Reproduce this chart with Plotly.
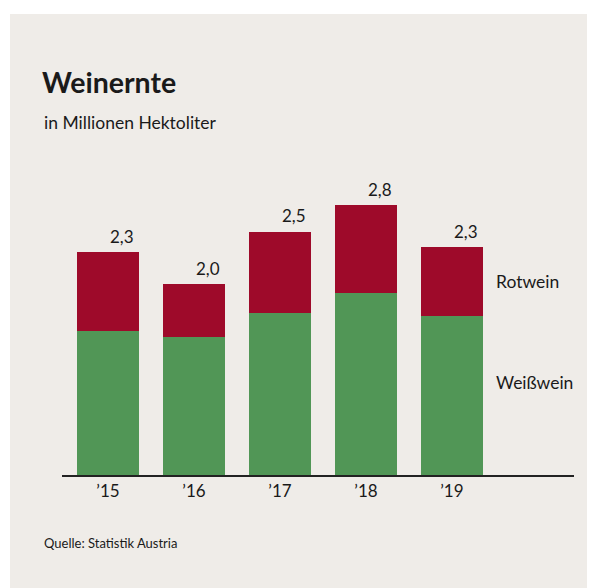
import plotly.graph_objects as go

years = ["’15", "’16", "’17", "’18", "’19"]
weisswein = [1.47, 1.41, 1.66, 1.86, 1.63]
rotwein = [0.81, 0.54, 0.83, 0.90, 0.70]
totals = [2.3, 2.0, 2.5, 2.8, 2.3]

# page body has an 8px margin, so the figure is drawn 8px in from the corner
OFF = 8
W, H = 595 - OFF, 588 - OFF
L, R, T, B = 62 - OFF, 21, 160 - OFF, 113
pw, ph = W - L - R, H - T - B

def px(x, y):
    # screen pixel position -> paper coordinates
    x, y = x - OFF, y - OFF
    return (x - L) / pw, (H - B - y) / ph

RED = "#9E0A2A"
GREEN = "#519656"
BG = "#EFECE8"
TXT = "#1a1a1a"
FONT = "Lato"

x = list(range(len(years)))
fig = go.Figure()
fig.add_trace(go.Bar(x=x, y=weisswein, name="Weißwein", marker_color=GREEN,
                     marker_line_width=0, width=0.72, hoverinfo="skip"))
fig.add_trace(go.Bar(x=x, y=rotwein, name="Rotwein", marker_color=RED,
                     marker_line_width=0, width=0.72, hoverinfo="skip"))

ann = []
for i, (w, r, t) in enumerate(zip(weisswein, rotwein, totals)):
    ann.append(dict(x=i, y=w + r, text=f"{t:.1f}".replace(".", ","), showarrow=False,
                    xshift=14, yshift=16, yanchor="middle",
                    font=dict(size=17, color=TXT, family=FONT)))

last = len(years) - 1
ann.append(dict(x=last, y=weisswein[last] + rotwein[last] / 2, text="Rotwein",
                showarrow=False, xanchor="left", xshift=42, yanchor="middle",
                font=dict(size=17.5, color=TXT, family=FONT)))
ann.append(dict(x=last, y=weisswein[last] * 0.58, text="Weißwein",
                showarrow=False, xanchor="left", xshift=42, yanchor="middle",
                font=dict(size=17.5, color=TXT, family=FONT)))

for txt, (ax, ay), size, bold in [("Weinernte", (40, 82), 28.5, True),
                                  ("in Millionen Hektoliter", (42, 122), 17.5, False),
                                  ("Quelle: Statistik Austria", (42, 543), 13, False)]:
    xx, yy = px(ax, ay)
    ann.append(dict(xref="paper", yref="paper", x=xx, y=yy, showarrow=False,
                    xanchor="left", yanchor="middle",
                    text=f"<b>{txt}</b>" if bold else txt,
                    font=dict(size=size, color=TXT, family=FONT)))

x0, y0 = px(10, 588)
x1, y1 = px(595, 14)

fig.update_layout(
    width=W, height=H,
    barmode="stack",
    showlegend=False,
    paper_bgcolor="white",
    plot_bgcolor="rgba(0,0,0,0)",
    margin=dict(l=L, r=R, t=T, b=B, pad=0),
    xaxis=dict(range=[-0.535, 5.42], tickvals=x, ticktext=years,
               showgrid=False, zeroline=False, showline=True,
               linecolor="#222", linewidth=2, ticks="",
               tickfont=dict(size=17, color=TXT, family=FONT)),
    yaxis=dict(range=[0, ph / 97.7], visible=False),
    shapes=[dict(type="rect", xref="paper", yref="paper", x0=x0, x1=x1, y0=y0, y1=y1,
                 fillcolor=BG, line_width=0, layer="below")],
    annotations=ann,
)

fig.write_html("out.html", default_width=f"{W}px", default_height=f"{H}px")
